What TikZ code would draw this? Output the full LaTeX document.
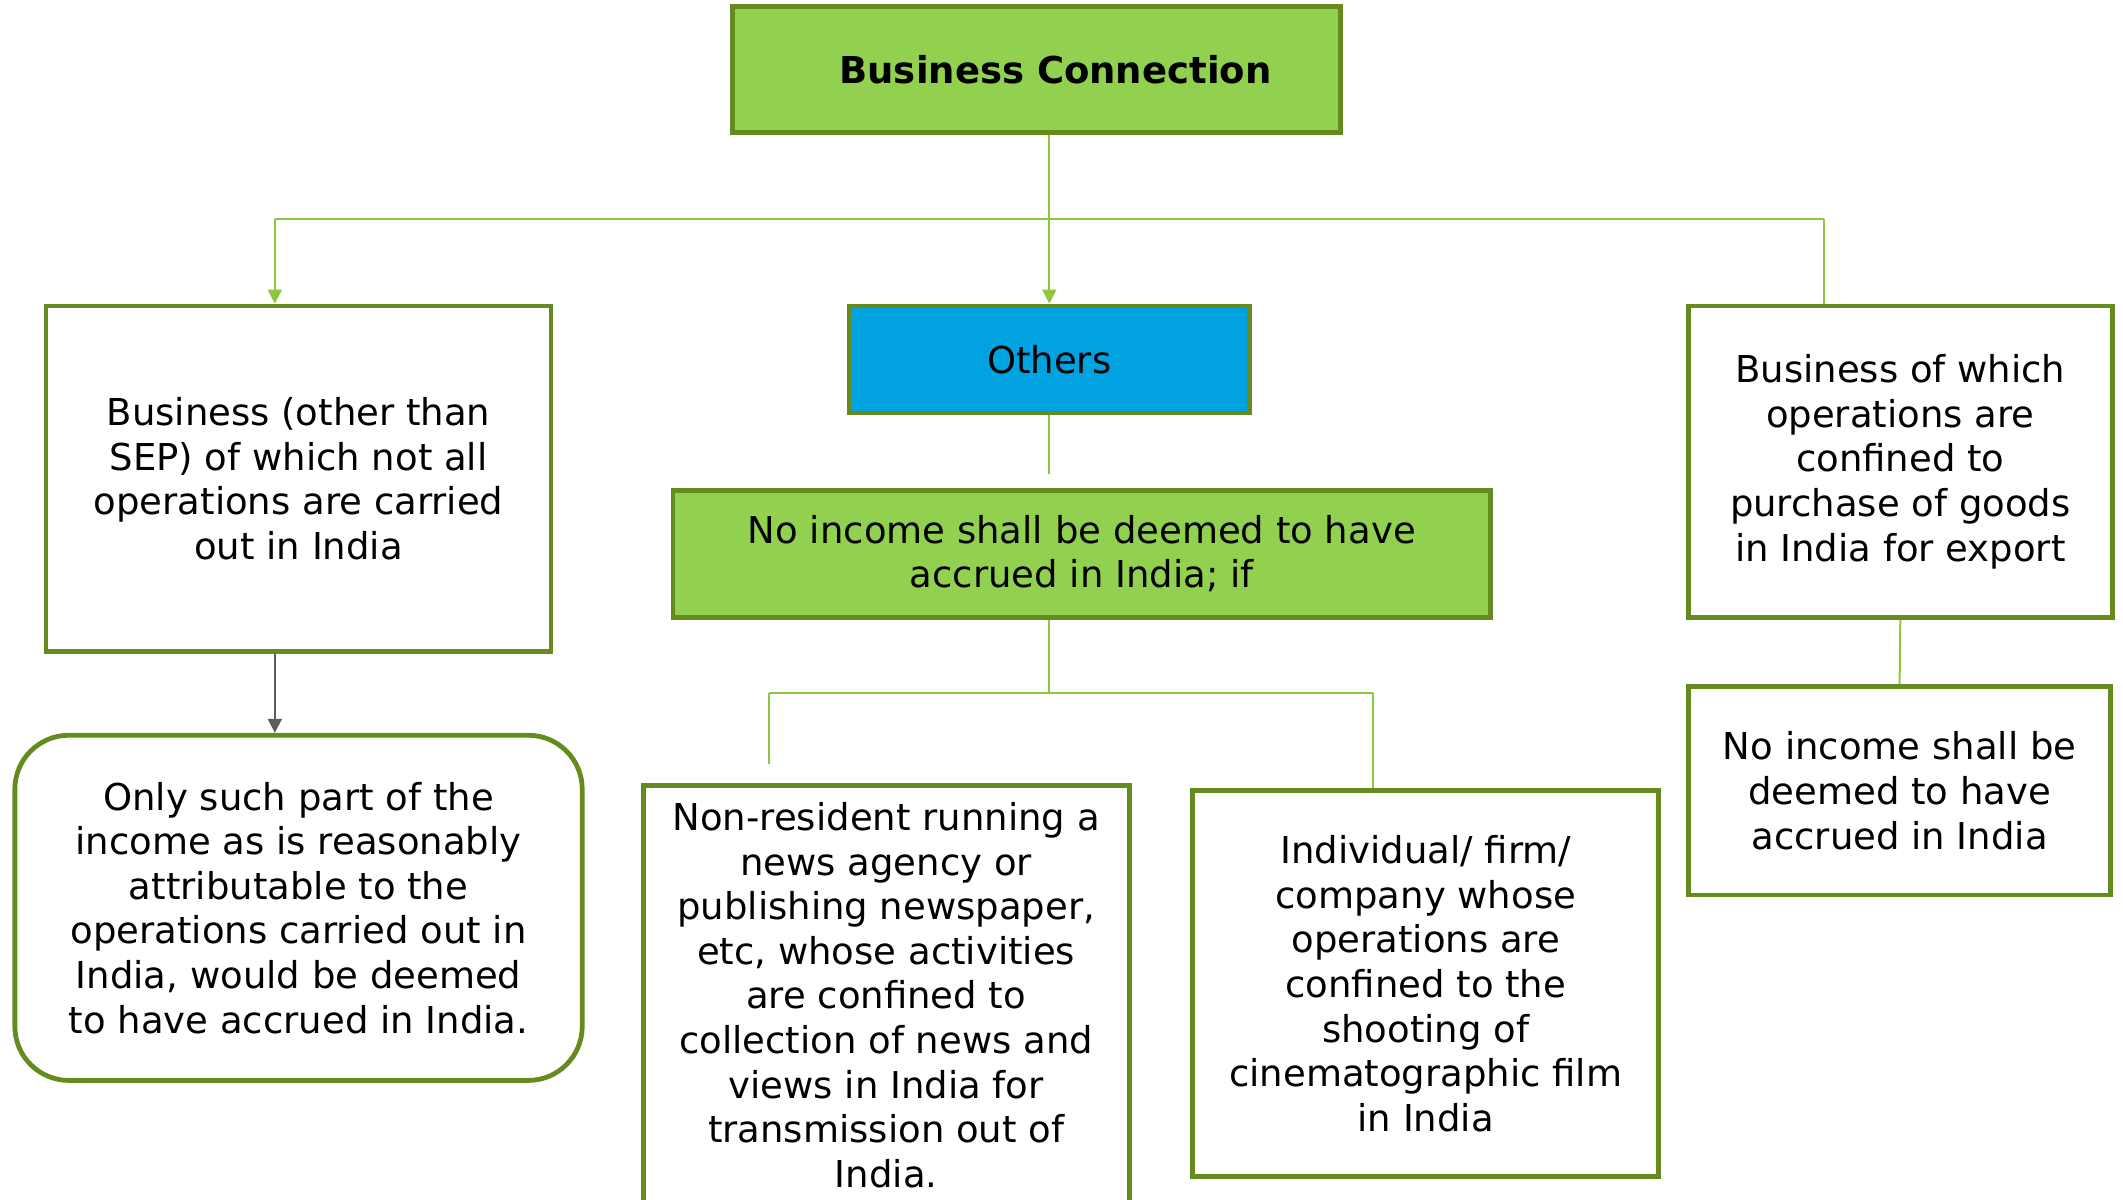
\documentclass[tikz,border=0pt]{standalone}
\usepackage{fontspec}
\setmainfont{DejaVu Sans}
\usetikzlibrary{arrows.meta}
\definecolor{leafgreen}{HTML}{92D050}
\definecolor{olivegreen}{HTML}{658B1E}
\definecolor{linkgreen}{HTML}{8DC63F}
\definecolor{skyblue}{HTML}{00A2DF}
\definecolor{arrowgrey}{HTML}{595C60}
\tikzset{
	textbox/.style={draw=olivegreen, line width=2.4pt, rectangle, align=center, inner sep=2pt, font=\fontsize{18.5pt}{22.3pt}\selectfont},
	headbox/.style={textbox, fill=leafgreen},
	bluebox/.style={textbox, fill=skyblue},
	plainbox/.style={textbox, fill=white},
	% rounded box for the attributable part
	roundbox/.style={textbox, fill=white, rounded corners=27pt},
}

\begin{document}
\begin{tikzpicture}[x=0.677pt, y=-0.677pt]

\useasboundingbox (0,0) rectangle (1568,886);

\node (bizconn) [headbox, minimum width=304pt, minimum height=63pt, font=\fontsize{18.5pt}{22.3pt}\selectfont\bfseries] at (765.5,51.5) {\hspace*{19pt}Business Connection};

\node (nonsep) [plainbox, minimum width=252.5pt, minimum height=172.6pt] at (220.5,353.5) {Business (other than\\SEP) of which not all\\operations are carried\\out in India};

\node (others) [bluebox, minimum width=200.4pt, minimum height=53.5pt] at (775,265.5) {Others};

\node (export) [plainbox, minimum width=211.9pt, minimum height=155.7pt] at (1403.5,341) {Business of which\\operations are\\confined to\\purchase of goods\\in India for export};

\node (noincif) [headbox, minimum width=408.9pt, minimum height=63.6pt] at (799,409) {No income shall be deemed to have\\accrued in India; if};

\node (partinc) [roundbox, minimum width=283.7pt, minimum height=172.6pt] at (220.5,670.5) {Only such part of the\\income as is reasonably\\attributable to the\\operations carried out in\\India, would be deemed\\to have accrued in India.};

\node (newsagency) [plainbox, minimum width=243pt, minimum height=209.9pt] at (654.5,735) {Non-resident running a\\news agency or\\publishing newspaper,\\etc, whose activities\\are confined to\\collection of news and\\views in India for\\transmission out of\\India.};

\node (filmshoot) [plainbox, minimum width=232.9pt, minimum height=192.9pt] at (1053,726.5) {Individual/ firm/\\company whose\\operations are\\confined to the\\shooting of\\cinematographic film\\in India};

\node (noincexp) [plainbox, minimum width=211.2pt, minimum height=104.3pt] at (1403,584) {No income shall be\\deemed to have\\accrued in India};

\coordinate (lefttee) at (203,162);
\coordinate (righttee) at (1347,162);
\coordinate (newstee) at (568,512);
\coordinate (filmtee) at (1014,512);

\begin{scope}[line width=1pt, linkgreen, >={Triangle[width=7pt,length=7pt]}]
	\draw (lefttee) -- (righttee);
	\draw[->] (bizconn.south -| others) -- (others.north);
	\draw[->] (lefttee) -- (lefttee |- nonsep.north);
	\draw (righttee) -- (righttee |- export.north);
	\draw[shorten >=6.8pt] (others.south) -- (others.south |- noincif.north);
	\draw (noincif.south -| others) -- (others |- newstee);
	\draw (newstee) -- (filmtee);
	\draw[shorten >=9.5pt] (newstee) -- (newstee |- newsagency.north);
	\draw (filmtee) -- (filmtee |- filmshoot.north);
	\draw (export.south) -- (noincexp.north);
\end{scope}

\draw[line width=1pt, arrowgrey, -{Triangle[width=7pt,length=7pt]}] (lefttee |- nonsep.south) -- (lefttee |- partinc.north);

\end{tikzpicture}
\end{document}
